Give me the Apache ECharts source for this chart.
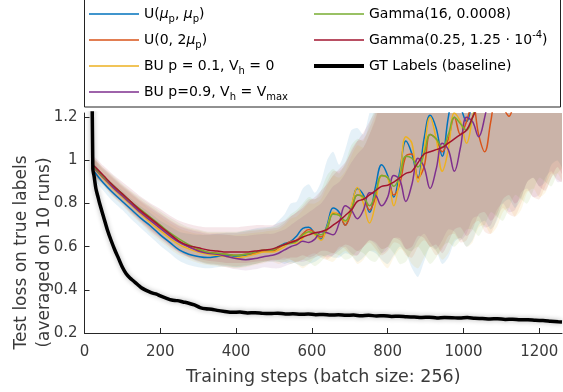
<!DOCTYPE html>
<html>
<head>
<meta charset="utf-8">
<script src="https://cdn.jsdelivr.net/npm/echarts@6/dist/echarts.min.js"></script>
<style>
  html, body { margin: 0; padding: 0; background: #fff; }
  #chart { width: 563px; height: 392px; }
</style>
</head>
<body>
<div id="chart"></div>
<script>
// training steps where the runs are sampled
var steps = [25, 50, 75, 100, 125, 150, 175, 200, 225, 250, 275, 300, 325, 350, 375, 400, 425, 450, 475,
  496, 512, 528, 544, 560, 576, 592, 608, 624, 640, 656, 672, 688, 704, 720, 736, 752, 768, 784, 800,
  816, 832, 848, 864, 880, 896, 912, 928, 944, 960, 976, 992, 1008, 1024, 1040, 1056, 1072, 1088, 1104,
  1120, 1136, 1152, 1168, 1184, 1200, 1216, 1232, 1248, 1264];

// mean test loss (curves stop once they leave the top of the axes)
var meanBlue = [0.95, 0.895, 0.85, 0.81, 0.77, 0.73, 0.695, 0.655, 0.62, 0.585, 0.565, 0.555, 0.55, 0.555, 0.56, 0.555, 0.56, 0.57, 0.58,
  0.585, 0.60, 0.615, 0.625, 0.65, 0.685, 0.69, 0.66, 0.635, 0.70, 0.78, 0.76, 0.70, 0.78, 0.87, 0.84, 0.76, 0.88, 0.98, 0.93,
  0.83, 0.95, 1.09, 1.03, 0.92, 1.1, 1.21, 1.15, 1.02, 1.2, 1.32, 1.25, 1.18, 1.3];
var meanOrange = [0.97, 0.925, 0.88, 0.84, 0.80, 0.76, 0.725, 0.69, 0.655, 0.625, 0.60, 0.585, 0.575, 0.57, 0.565, 0.56, 0.565, 0.57, 0.58,
  0.58, 0.595, 0.61, 0.625, 0.63, 0.66, 0.68, 0.665, 0.645, 0.68, 0.755, 0.75, 0.70, 0.76, 0.84, 0.83, 0.77, 0.83, 0.93, 0.92,
  0.84, 0.89, 1.02, 1.03, 0.92, 0.97, 1.12, 1.1, 1.04, 1.1, 1.2, 1.12, 1.18, 1.27, 1.12, 1.04, 1.18, 1.32, 1.25, 1.205, 1.32];
var meanYellow = [0.965, 0.915, 0.87, 0.83, 0.79, 0.75, 0.71, 0.675, 0.64, 0.61, 0.59, 0.575, 0.565, 0.56, 0.555, 0.55, 0.555, 0.565, 0.575,
  0.575, 0.585, 0.6, 0.62, 0.615, 0.64, 0.67, 0.655, 0.63, 0.69, 0.76, 0.745, 0.715, 0.79, 0.875, 0.8, 0.71, 0.80, 0.93, 0.92,
  0.79, 0.92, 1.11, 1.08, 0.9, 1.05, 1.2, 1.1, 0.95, 1.05, 1.22, 1.18, 1.08, 1.2, 1.35];
var meanPurple = [0.965, 0.92, 0.875, 0.835, 0.795, 0.755, 0.72, 0.685, 0.65, 0.62, 0.60, 0.58, 0.57, 0.565, 0.555, 0.545, 0.54, 0.545, 0.555,
  0.56, 0.57, 0.585, 0.60, 0.61, 0.625, 0.62, 0.635, 0.67, 0.665, 0.655, 0.71, 0.79, 0.77, 0.73, 0.77, 0.85, 0.84, 0.79, 0.83,
  0.93, 0.91, 0.81, 0.89, 1.01, 0.97, 0.87, 0.96, 1.08, 1.05, 0.95, 1.06, 1.2, 1.18, 1.11, 1.2, 1.35];
var meanGreen = [0.97, 0.925, 0.885, 0.845, 0.805, 0.77, 0.735, 0.70, 0.665, 0.635, 0.61, 0.59, 0.575, 0.57, 0.565, 0.56, 0.565, 0.575, 0.585,
  0.585, 0.6, 0.61, 0.615, 0.625, 0.655, 0.67, 0.66, 0.655, 0.69, 0.75, 0.745, 0.72, 0.77, 0.84, 0.83, 0.79, 0.85, 0.93, 0.92,
  0.88, 0.93, 1.02, 1.01, 0.97, 1.03, 1.12, 1.1, 1.06, 1.12, 1.2, 1.17, 1.14, 1.2, 1.3];
var meanRed = [0.975, 0.93, 0.885, 0.845, 0.805, 0.765, 0.73, 0.695, 0.66, 0.625, 0.605, 0.595, 0.585, 0.58, 0.575, 0.575, 0.575, 0.58, 0.585,
  0.59, 0.6, 0.61, 0.62, 0.63, 0.645, 0.655, 0.665, 0.67, 0.68, 0.70, 0.72, 0.745, 0.77, 0.81, 0.82, 0.84, 0.86, 0.88, 0.885,
  0.9, 0.92, 0.94, 0.95, 0.99, 1.03, 1.04, 1.05, 1.06, 1.08, 1.1, 1.12, 1.14, 1.2, 1.26];

// lower edge of each shaded band
var loBlue = [0.915, 0.86, 0.81, 0.77, 0.725, 0.685, 0.645, 0.605, 0.57, 0.535, 0.515, 0.505, 0.5, 0.505, 0.51, 0.505, 0.51, 0.52, 0.53,
  0.53, 0.53, 0.52, 0.53, 0.52, 0.51, 0.52, 0.53, 0.55, 0.56, 0.55, 0.55, 0.57, 0.56, 0.53, 0.55, 0.58, 0.57, 0.54, 0.52,
  0.56, 0.6, 0.57, 0.5, 0.46, 0.53, 0.6, 0.58, 0.52, 0.55, 0.62, 0.64, 0.6, 0.63, 0.7, 0.72, 0.68, 0.72, 0.8, 0.82,
  0.78, 0.82, 0.9, 0.92, 0.88, 0.9, 0.98, 1.0, 0.96];
var loOrange = [0.935, 0.89, 0.84, 0.8, 0.755, 0.715, 0.675, 0.64, 0.605, 0.575, 0.55, 0.535, 0.525, 0.52, 0.515, 0.51, 0.515, 0.52, 0.53,
  0.54, 0.54, 0.55, 0.54, 0.53, 0.54, 0.56, 0.57, 0.55, 0.54, 0.56, 0.6, 0.59, 0.56, 0.56, 0.6, 0.62, 0.59, 0.56, 0.58,
  0.62, 0.61, 0.56, 0.55, 0.6, 0.63, 0.6, 0.56, 0.59, 0.65, 0.66, 0.62, 0.63, 0.7, 0.72, 0.67, 0.66, 0.73, 0.78, 0.75,
  0.74, 0.8, 0.86, 0.83, 0.82, 0.88, 0.94, 0.91, 0.9];
var loYellow = [0.93, 0.88, 0.83, 0.79, 0.745, 0.705, 0.66, 0.625, 0.59, 0.56, 0.54, 0.525, 0.515, 0.51, 0.505, 0.5, 0.505, 0.515, 0.525,
  0.53, 0.52, 0.53, 0.54, 0.52, 0.5, 0.52, 0.55, 0.56, 0.54, 0.53, 0.56, 0.58, 0.56, 0.52, 0.54, 0.58, 0.58, 0.53, 0.5,
  0.55, 0.59, 0.57, 0.52, 0.5, 0.55, 0.6, 0.58, 0.54, 0.57, 0.63, 0.64, 0.6, 0.62, 0.69, 0.7, 0.66, 0.69, 0.76, 0.78,
  0.74, 0.77, 0.85, 0.87, 0.83, 0.85, 0.92, 0.94, 0.9];
var loPurple = [0.93, 0.885, 0.835, 0.795, 0.75, 0.71, 0.67, 0.635, 0.6, 0.57, 0.55, 0.53, 0.52, 0.515, 0.505, 0.495, 0.49, 0.495, 0.505,
  0.5, 0.5, 0.51, 0.52, 0.53, 0.53, 0.54, 0.55, 0.56, 0.55, 0.56, 0.58, 0.6, 0.57, 0.56, 0.6, 0.63, 0.61, 0.57, 0.59,
  0.64, 0.64, 0.59, 0.58, 0.63, 0.66, 0.62, 0.59, 0.63, 0.68, 0.67, 0.63, 0.66, 0.73, 0.74, 0.69, 0.7, 0.77, 0.8, 0.76,
  0.77, 0.85, 0.87, 0.83, 0.84, 0.92, 0.95, 0.9, 0.91];
var loGreen = [0.935, 0.89, 0.845, 0.805, 0.76, 0.725, 0.685, 0.65, 0.615, 0.58, 0.555, 0.535, 0.52, 0.515, 0.51, 0.505, 0.51, 0.52, 0.53,
  0.54, 0.53, 0.53, 0.52, 0.53, 0.54, 0.53, 0.51, 0.53, 0.56, 0.57, 0.56, 0.54, 0.55, 0.58, 0.57, 0.54, 0.53, 0.57, 0.6,
  0.57, 0.52, 0.53, 0.58, 0.6, 0.56, 0.52, 0.55, 0.6, 0.62, 0.6, 0.63, 0.68, 0.68, 0.65, 0.7, 0.76, 0.74, 0.72, 0.78,
  0.84, 0.82, 0.8, 0.86, 0.92, 0.9, 0.88, 0.94, 0.98];
var loRed = [0.94, 0.895, 0.845, 0.805, 0.76, 0.72, 0.68, 0.645, 0.61, 0.575, 0.555, 0.545, 0.535, 0.53, 0.525, 0.525, 0.525, 0.53, 0.535,
  0.535, 0.54, 0.54, 0.55, 0.55, 0.56, 0.55, 0.56, 0.58, 0.58, 0.57, 0.59, 0.61, 0.6, 0.58, 0.6, 0.63, 0.62, 0.59, 0.6,
  0.64, 0.63, 0.59, 0.6, 0.65, 0.64, 0.6, 0.61, 0.57, 0.62, 0.68, 0.69, 0.65, 0.68, 0.75, 0.76, 0.72, 0.75, 0.82, 0.84,
  0.8, 0.83, 0.9, 0.92, 0.88, 0.86, 0.92, 0.97, 0.93];

// upper edge of each band (it leaves the axes early; missing points lie above the top)
var hiBlue = [0.985, 0.935, 0.895, 0.86, 0.82, 0.785, 0.755, 0.72, 0.695, 0.67, 0.66, 0.655, 0.655, 0.66, 0.665, 0.665, 0.675, 0.685, 0.69,
  0.695, 0.72, 0.75, 0.8, 0.81, 0.87, 0.89, 0.85, 0.9, 1.0, 1.04, 0.98, 1.05, 1.14, 1.15, 1.12, 1.22, 1.3];
var hiOrange = [1.005, 0.965, 0.925, 0.885, 0.85, 0.815, 0.785, 0.755, 0.725, 0.7, 0.685, 0.675, 0.665, 0.665, 0.665, 0.665, 0.67, 0.675, 0.68,
  0.685, 0.69, 0.71, 0.74, 0.76, 0.79, 0.82, 0.82, 0.84, 0.9, 0.95, 0.95, 0.98, 1.05, 1.09, 1.1, 1.15, 1.22, 1.3];
var hiYellow = [1.0, 0.955, 0.915, 0.875, 0.84, 0.805, 0.77, 0.74, 0.71, 0.685, 0.67, 0.66, 0.655, 0.655, 0.655, 0.655, 0.66, 0.665, 0.67,
  0.675, 0.68, 0.7, 0.73, 0.74, 0.77, 0.8, 0.8, 0.82, 0.88, 0.93, 0.92, 0.95, 1.02, 1.07, 1.06, 1.12, 1.2, 1.3];
var hiPurple = [1.0, 0.96, 0.92, 0.88, 0.845, 0.81, 0.78, 0.75, 0.72, 0.695, 0.68, 0.67, 0.66, 0.66, 0.655, 0.65, 0.65, 0.655, 0.66,
  0.66, 0.67, 0.68, 0.7, 0.72, 0.74, 0.76, 0.78, 0.8, 0.84, 0.88, 0.9, 0.94, 0.99, 1.03, 1.06, 1.12, 1.19, 1.3];
var hiGreen = [1.005, 0.965, 0.93, 0.89, 0.855, 0.825, 0.795, 0.765, 0.735, 0.71, 0.69, 0.68, 0.67, 0.67, 0.67, 0.67, 0.675, 0.68, 0.685,
  0.69, 0.7, 0.72, 0.75, 0.77, 0.8, 0.83, 0.82, 0.86, 0.93, 0.96, 0.94, 0.99, 1.07, 1.1, 1.09, 1.17, 1.25, 1.3];
var hiRed = [1.015, 0.975, 0.935, 0.9, 0.865, 0.83, 0.8, 0.775, 0.745, 0.72, 0.705, 0.695, 0.69, 0.69, 0.69, 0.69, 0.695, 0.7, 0.7,
  0.7, 0.71, 0.72, 0.74, 0.76, 0.78, 0.81, 0.83, 0.86, 0.89, 0.93, 0.96, 0.99, 1.04, 1.09, 1.13, 1.18, 1.23, 1.3];

// baseline trained on ground-truth labels
var gtSteps = [19, 22, 25, 30, 35, 40, 50, 60, 70, 80, 90, 100, 110, 120, 130, 140, 150, 160, 170, 180, 190, 200,
  215, 230, 245, 260, 275, 290, 305, 320, 335, 350, 370, 390, 410, 430, 450, 470, 490, 510, 530, 550, 570, 590,
  610, 630, 650, 670, 690, 710, 730, 750, 770, 790, 810, 830, 850, 870, 890, 910, 930, 950, 970, 990, 1010,
  1030, 1050, 1070, 1090, 1110, 1130, 1150, 1170, 1190, 1210, 1230, 1250, 1260];
var gtLoss = [1.6, 0.96, 0.93, 0.87, 0.835, 0.8, 0.74, 0.68, 0.63, 0.585, 0.545, 0.505, 0.475, 0.455, 0.44, 0.425, 0.41, 0.4, 0.392, 0.385, 0.38, 0.372,
  0.362, 0.353, 0.35, 0.344, 0.338, 0.33, 0.318, 0.312, 0.31, 0.305, 0.3, 0.296, 0.297, 0.293, 0.294, 0.291, 0.29, 0.292, 0.288, 0.289, 0.287, 0.288,
  0.285, 0.286, 0.283, 0.285, 0.282, 0.283, 0.28, 0.282, 0.279, 0.28, 0.277, 0.278, 0.275, 0.274, 0.272, 0.273, 0.27, 0.272, 0.271, 0.269, 0.272,
  0.268, 0.267, 0.265, 0.266, 0.263, 0.264, 0.261, 0.262, 0.259, 0.258, 0.255, 0.252, 0.251];

var xTicks = [0, 200, 400, 600, 800, 1000, 1200];
var yTicks = [0.2, 0.4, 0.6, 0.8, 1, 1.2];

var FONT = 'DejaVu Sans';
var Y_MIN = 0.2, Y_MAX = 1.22;

var runs = [
  { name: 'U(μp, μp)', color: '#0072BD', mean: meanBlue, lo: loBlue, hi: hiBlue },
  { name: 'U(0, 2μp)', color: '#D95319', mean: meanOrange, lo: loOrange, hi: hiOrange },
  { name: 'BU p = 0.1, Vh = 0', color: '#EDB120', mean: meanYellow, lo: loYellow, hi: hiYellow },
  { name: 'BU p=0.9, Vh = Vmax', color: '#7E2F8E', mean: meanPurple, lo: loPurple, hi: hiPurple },
  { name: 'Gamma(16, 0.0008)', color: '#77AC30', mean: meanGreen, lo: loGreen, hi: hiGreen },
  { name: 'Gamma(0.25, 1.25·10-4)', color: '#A2142F', mean: meanRed, lo: loRed, hi: hiRed }
];
var gtName = 'GT Labels (baseline)';

// rich-text versions of the legend names (subscripts / superscripts)
var legendText = {
  'U(μp, μp)': 'U({it|μ}{sub|p}, {it|μ}{sub|p})',
  'U(0, 2μp)': 'U(0, 2{it|μ}{sub|p})',
  'BU p = 0.1, Vh = 0': 'BU p = 0.1, V{sub|h} = 0',
  'BU p=0.9, Vh = Vmax': 'BU p=0.9, V{sub|h} = V{sub|max}',
  'Gamma(16, 0.0008)': 'Gamma(16, 0.0008)',
  'Gamma(0.25, 1.25·10-4)': 'Gamma(0.25, 1.25 · 10{sup|-4})',
  'GT Labels (baseline)': 'GT Labels (baseline)'
};

// legend swatches: plain horizontal strokes inside a 50x20 box
var thinIcon = 'path://M0,0M50,20M0,9.25L50,9.25L50,10.75L0,10.75Z';
var thickIcon = 'path://M0,0M50,20M0,8L50,8L50,12L0,12Z';

function pairs(xs, ys) {
  var out = [];
  for (var i = 0; i < ys.length; i++) out.push([xs[i], ys[i]]);
  return out;
}

function hexAlpha(hex, a) {
  var n = parseInt(hex.slice(1), 16);
  return 'rgba(' + (n >> 16) + ',' + ((n >> 8) & 255) + ',' + (n & 255) + ',' + a + ')';
}

function bandSeries(r) {
  return {
    type: 'custom', silent: true, z: 1,
    data: [[steps[0], r.lo[0]]],
    renderItem: function (params, api) {
      var upper = [], lower = [];
      for (var i = 0; i < steps.length; i++) {
        var h = r.hi[i] != null ? r.hi[i] : Y_MAX + 0.3;
        upper.push(api.coord([steps[i], h]));
        lower.push(api.coord([steps[i], r.lo[i]]));
      }
      var cs = params.coordSys;
      return {
        type: 'polygon',
        shape: { points: upper.concat(lower.reverse()), smooth: 0.25 },
        style: { fill: hexAlpha(r.color, 0.1) },
        clipPath: { type: 'rect', shape: { x: cs.x, y: cs.y, width: cs.width, height: cs.height } }
      };
    }
  };
}

var series = [];
runs.forEach(function (r) { series.push(bandSeries(r)); });

runs.forEach(function (r) {
  series.push({
    name: r.name, type: 'line', data: pairs(steps, r.mean), symbol: 'none', smooth: 0.4,
    lineStyle: { color: r.color, width: 1.5 }, itemStyle: { color: r.color }, z: 3
  });
});

series.push({
  name: gtName, type: 'line', data: pairs(gtSteps, gtLoss), symbol: 'none', smooth: 0.3,
  lineStyle: { color: '#000', width: 3.5, shadowColor: 'rgba(0,0,0,0.3)', shadowBlur: 5 },
  itemStyle: { color: '#000' }, z: 4
});

var legendTextStyle = {
  fontFamily: FONT, fontSize: 14, lineHeight: 20, color: '#000',
  rich: {
    it: { fontFamily: FONT, fontSize: 14, lineHeight: 20, fontStyle: 'italic', color: '#000' },
    sub: { fontFamily: FONT, fontSize: 10, lineHeight: 10, verticalAlign: 'bottom', color: '#000' },
    sup: { fontFamily: FONT, fontSize: 10, lineHeight: 10, verticalAlign: 'top', color: '#000' }
  }
};
function legendFmt(name) { return legendText[name]; }
function legendItem(name, icon) { return { name: name, icon: icon }; }

var chart = echarts.init(document.getElementById('chart'), null, { renderer: 'canvas' });
chart.setOption({
  animation: false,
  backgroundColor: '#fff',
  graphic: [{
    type: 'rect', z: 0,
    shape: { x: 84.5, y: -4, width: 476, height: 111 },
    style: { fill: '#fff', stroke: '#222', lineWidth: 1 }
  }],
  legend: [{
    orient: 'vertical', left: 89, top: 4, padding: 0, itemGap: 6,
    itemWidth: 50, itemHeight: 20, selectedMode: false,
    data: runs.slice(0, 4).map(function (r) { return legendItem(r.name, thinIcon); }),
    formatter: legendFmt, textStyle: legendTextStyle
  }, {
    orient: 'vertical', left: 314, top: 4, padding: 0, itemGap: 6,
    itemWidth: 50, itemHeight: 20, selectedMode: false,
    data: [legendItem(runs[4].name, thinIcon), legendItem(runs[5].name, thinIcon), legendItem(gtName, thickIcon)],
    formatter: legendFmt, textStyle: legendTextStyle
  }],
  grid: { left: 84.5, right: 1, top: 113, bottom: 59, containLabel: false, outerBoundsMode: 'none' },
  xAxis: {
    type: 'value', min: 0, max: 1260,
    axisLine: { lineStyle: { color: '#262626', width: 1 } },
    axisTick: { inside: true, length: 5, customValues: xTicks, lineStyle: { color: '#262626' } },
    axisLabel: {
      customValues: xTicks, margin: 12, fontFamily: FONT, fontSize: 15, color: '#3a3a3a',
      formatter: function (v) { return String(v); }
    },
    splitLine: { show: false },
    name: 'Training steps (batch size: 256)', nameLocation: 'middle', nameGap: 34, nameMoveOverlap: false,
    nameTextStyle: { fontFamily: FONT, fontSize: 17.5, lineHeight: 20, color: '#3a3a3a' }
  },
  yAxis: {
    type: 'value', min: Y_MIN, max: Y_MAX,
    axisLine: { show: true, lineStyle: { color: '#262626', width: 1 } },
    axisTick: { show: true, inside: true, length: 5, customValues: yTicks, lineStyle: { color: '#262626' } },
    axisLabel: { customValues: yTicks, margin: 7, fontFamily: FONT, fontSize: 15, color: '#3a3a3a' },
    splitLine: { show: false },
    name: 'Test loss on true labels\n(averaged on 10 runs)', nameLocation: 'middle', nameRotate: 90, nameGap: 28,
    nameMoveOverlap: false,
    nameTextStyle: { fontFamily: FONT, fontSize: 17, lineHeight: 23, color: '#3a3a3a', padding: [0, 59, 0, 0] }
  },
  series: series
});
</script>
</body>
</html>
